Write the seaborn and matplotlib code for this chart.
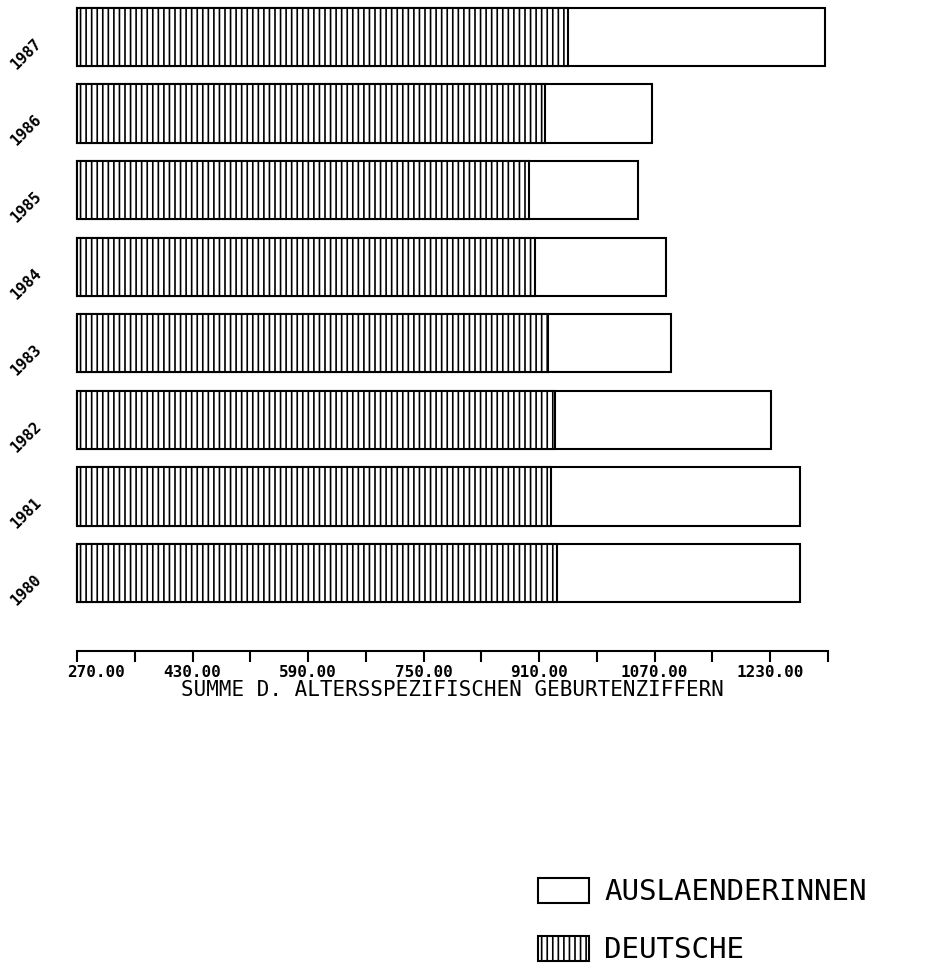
import numpy as np
import pandas as pd
import matplotlib
matplotlib.use('Agg')
import matplotlib.pyplot as plt
import matplotlib.transforms as mtransforms
from matplotlib.patches import Patch
import seaborn as sns

# Werte, Jahre von oben nach unten
years = ['1987', '1986', '1985', '1984', '1983', '1982', '1981', '1980']
deutsche = [950, 918, 896, 904, 922, 932, 926, 935]
auslaenderinnen = [1306, 1066, 1047, 1086, 1093, 1231, 1271, 1271]

x_min, x_max, x_step = 270, 1310, 80
x_label = 'SUMME D. ALTERSSPEZIFISCHEN GEBURTENZIFFERN'
legend_labels = ['AUSLAENDERINNEN', 'DEUTSCHE']

sns.set_theme(style='white')
plt.rcParams['font.family'] = ['DejaVu Sans Mono', 'DejaVu Sans']
plt.rcParams['text.color'] = 'black'
plt.rcParams['xtick.color'] = 'black'
plt.rcParams['axes.labelcolor'] = 'black'
plt.rcParams['hatch.linewidth'] = 1.2
plt.rcParams['hatch.color'] = 'black'

df = pd.DataFrame({'Jahr': years, 'Deutsche': deutsche, 'Auslaenderinnen': auslaenderinnen})
# Balken beginnen am linken Achsenende (x_min)
df['aus_len'] = df['Auslaenderinnen'] - x_min
df['de_len'] = df['Deutsche'] - x_min

fig = plt.figure(figsize=(9.47, 9.71), dpi=100)
ax = fig.add_axes([0.0813, 0.3296, 0.793, 0.6704])

sns.barplot(data=df, x='aus_len', y='Jahr', order=years, orient='h', ax=ax,
            color='white', edgecolor='black', linewidth=1.5, width=0.76,
            left=x_min, saturation=1)
sns.barplot(data=df, x='de_len', y='Jahr', order=years, orient='h', ax=ax,
            color='white', edgecolor='black', linewidth=1.5, width=0.76,
            left=x_min, hatch='|||', saturation=1)
for p in ax.patches:
    p.set_clip_on(False)

ax.set_xlim(x_min, x_max)
ax.set_ylim(len(years) - 1 + 1.016, -0.483)

# x-Achse: Striche alle 80, Beschriftung alle 160
ticks = np.arange(x_min, x_max + 1, x_step)
ax.set_xticks(ticks)
labels = [f'{t:.2f}' if (i % 2 == 0 and t < x_max) else '' for i, t in enumerate(ticks)]
ax.set_xticklabels(labels, fontsize=11.5, fontweight='bold')
ax.tick_params(axis='x', direction='out', length=8, width=1.5, color='black', pad=2,
               bottom=True)
first = ax.get_xticklabels()[0]
first.set_ha('left')
first.set_transform(first.get_transform() +
                    mtransforms.ScaledTranslation(-0.1, 0, fig.dpi_scale_trans))
ax.set_xlabel(x_label, fontsize=15, labelpad=0)

for s in ['top', 'right', 'left']:
    ax.spines[s].set_visible(False)
ax.spines['bottom'].set_color('black')
ax.spines['bottom'].set_linewidth(1.5)

# Jahresbeschriftung schraeg links neben den Balken
ax.set_yticks([])
ax.set_ylabel('')
trans = mtransforms.blended_transform_factory(ax.transAxes, ax.transData)
for i, y in enumerate(years):
    ax.text(-0.05, i + 0.05, y, transform=trans, rotation=45, rotation_mode='anchor',
            ha='right', va='center', fontsize=11, fontweight='bold')

handles = [Patch(facecolor='white', edgecolor='black', linewidth=1.5),
           Patch(facecolor='white', edgecolor='black', linewidth=1.5, hatch='|||')]
fig.legend(handles, legend_labels, loc='lower left', bbox_to_anchor=(0.55, -0.011),
           frameon=False, fontsize=21, handlelength=1.75, handleheight=0.95,
           handletextpad=0.5, labelspacing=1.0, borderpad=0.1)

fig.savefig('out.png', dpi=100, facecolor='white')
